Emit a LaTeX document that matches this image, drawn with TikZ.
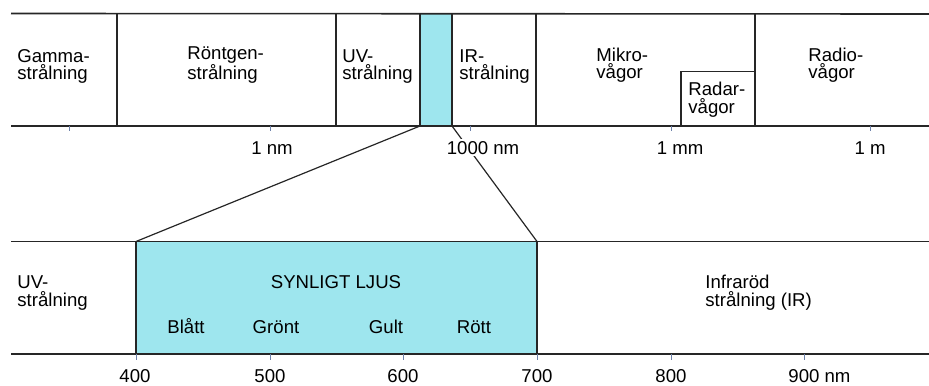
\documentclass[tikz,border=0pt]{standalone}
\usepackage{fontspec}
\setmainfont{Liberation Sans}
\definecolor{ljus}{RGB}{158,230,238}
\definecolor{tick}{RGB}{110,130,170}
\begin{document}
\begin{tikzpicture}[x=0.5pt,y=-0.5pt,
  band/.style={line width=0.8pt,draw=black!85},
  sep/.style={line width=0.6pt,draw=black!85},
  tk/.style={line width=0.5pt,draw=tick},
  lbl/.style={anchor=base west,align=left,inner sep=0pt,font=\fontsize{9.3}{9}\selectfont},
  num/.style={anchor=base,inner sep=0pt,font=\fontsize{9.3}{9}\selectfont},
  conn/.style={line width=0.6pt,draw=black!85}]
\useasboundingbox (0,0) rectangle (929,385);
% ---------- top band ----------
\fill[ljus] (420,13.5) rectangle (452,126);
\draw[band] (11,13.5) -- (929,14);
\draw[band] (11,126) -- (929,126);
\foreach \x in {117,336,420,452,536,755} \draw[sep] (\x,13.5) -- (\x,126);
\draw[sep] (681,126) -- (681,71.5) -- (755,71.5);
\foreach \x in {69,270,470,671,870} \draw[tk] (\x,126) -- (\x,131);
\coordinate (vl) at (420,126);
\coordinate (vr) at (452,126);
% ---------- bottom band ----------
\fill[ljus] (136,241.5) rectangle (537,354);
\draw[band] (11,241.5) -- (929,241.5);
\draw[band] (11,354) -- (929,354);
\draw[sep] (136,241.5) -- (136,354);
\draw[sep] (537,241.5) -- (537,354);
\foreach \x in {136,270,403,537,671,804} \draw[tk] (\x,354) -- (\x,360);
\coordinate (bl) at (136,241.5);
\coordinate (br) at (537,241.5);
% ---------- connectors ----------
\draw[conn] (vl) -- (bl);
\draw[conn] (vr) -- (br);
% ---------- top labels ----------
\node[lbl] (gamma) at (17,80) {Gamma-\\strålning};
\node[lbl] (rontgen) at (187,80) {Röntgen-\\strålning};
\node[lbl] (uv) at (342,80) {UV-\\strålning};
\node[lbl] (ir) at (459,80) {IR-\\strålning};
\node[lbl] (mikro) at (596,79) {Mikro-\\vågor};
\node[lbl] (radar) at (688,113) {Radar-\\vågor};
\node[lbl] (radio) at (808,79) {Radio-\\vågor};
\node[num] (nm1) at (272,154) {1 nm};
\node[num,fill=white,inner sep=1pt] (nm1000) at (483,154) {1000 nm};
\node[num] (mm1) at (680,154) {1 mm};
\node[num] (m1) at (870,154) {1 m};
% ---------- bottom labels ----------
\node[lbl] (uv2) at (17,306) {UV-\\strålning};
\node[num] (synl) at (336,288) {SYNLIGT LJUS};
\node[num] (blatt) at (186,333) {Blått};
\node[num] (gront) at (276,333) {Grönt};
\node[num] (gult) at (386,333) {Gult};
\node[num] (rott) at (474,333) {Rött};
\node[lbl] (infra) at (705,306) {Infraröd\\strålning (IR)};
\node[num] (n400) at (135,382) {400};
\node[num] (n500) at (270,382) {500};
\node[num] (n600) at (403,382) {600};
\node[num] (n700) at (537,382) {700};
\node[num] (n800) at (671,382) {800};
\node[lbl] (n900) at (788,382) {900 nm};
\end{tikzpicture}
\end{document}
